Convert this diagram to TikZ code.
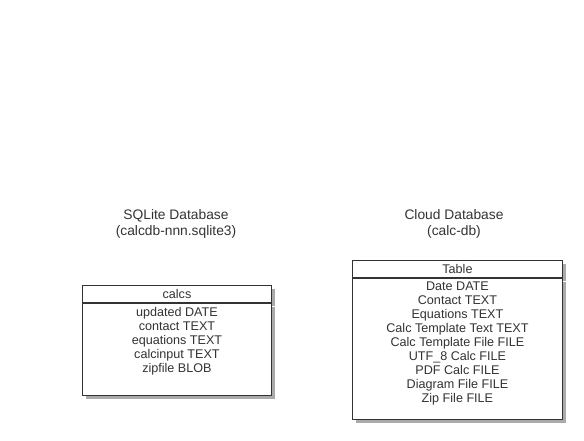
\documentclass[tikz,border=0pt]{standalone}
\usepackage{fontspec}
\setmainfont{Liberation Sans}
\usepackage{tikz}
\usetikzlibrary{shadows}
\definecolor{ink}{HTML}{333333}
\definecolor{shade}{HTML}{AAAAAA}
\tikzstyle{title}=[inner sep=0pt,ink,align=center,font=\fontsize{13.8}{16}\selectfont]
\tikzstyle{tbl}=[draw=ink,line width=0.9pt,fill=white,rectangle,inner sep=0pt,
  drop shadow={shadow xshift=4pt,shadow yshift=-4pt,fill=shade,opacity=1}]
\tikzstyle{head}=[tbl,minimum height=17pt,text=ink,font=\fontsize{12.6}{14}\selectfont]
\tikzstyle{rows}=[inner sep=0pt,ink,align=center,font=\fontsize{12.6}{14}\selectfont]

\begin{document}
\begin{tikzpicture}[x=1pt,y=-1pt]
	\useasboundingbox (0,0) rectangle (584,440);
	\node[title] (sqlite) at (176,224) {SQLite Database\\(calcdb-nnn.sqlite3)};
	\node[title] (cloud) at (454,224) {Cloud Database\\(calc-db)};

	% sqlite table
	\node[head,minimum width=189pt,anchor=north west] (calcs) at (82,285) {calcs};
	\node[tbl,minimum width=189pt,minimum height=92pt,anchor=north] (calcsbody) at (calcs.south) {};
	\node[rows,anchor=north] (calcsrows) at ([yshift=-4pt]calcsbody.north)
	  {updated DATE\\contact TEXT\\equations TEXT\\calcinput TEXT\\zipfile BLOB};

	% cloud table
	\node[head,minimum width=210pt,anchor=north west] (table) at (352,260) {Table};
	\node[tbl,minimum width=210pt,minimum height=141pt,anchor=north] (tablebody) at (table.south) {};
	\node[rows,anchor=north] (tablerows) at ([yshift=-4pt]tablebody.north)
	  {Date DATE\\Contact TEXT\\Equations TEXT\\Calc Template Text TEXT\\Calc Template File FILE\\
	   UTF\_8 Calc FILE\\PDF Calc FILE\\Diagram File FILE\\Zip File FILE};
\end{tikzpicture}
\end{document}
